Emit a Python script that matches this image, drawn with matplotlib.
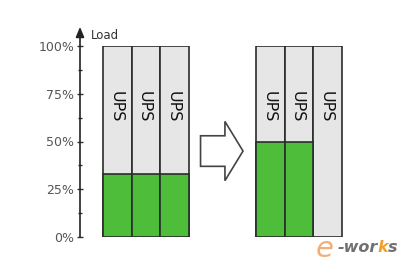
import matplotlib.pyplot as plt
from matplotlib.patches import FancyArrow

# loads (percent) of each UPS before and after consolidation
before_load = [33, 33, 33]
after_load = [50, 50, 0]
bar_label = "UPS"
tick_values = [0, 25, 50, 75, 100]
tick_labels = ["0%", "25%", "50%", "75%", "100%"]
axis_title = "Load"

green = "#4dbd3a"
grey = "#e6e6e6"
edge = "#2b2b2b"

fig = plt.figure(figsize=(4.1, 2.7), dpi=100)
# axes spans from the y axis (x=80px) to the right, 0%..100% vertically
ax = fig.add_axes([80 / 410, 33 / 270, 280 / 410, 191 / 270])
ax.set_xlim(0, 280 / 28.7)
ax.set_ylim(0, 100)

for spine in ["top", "right", "bottom", "left"]:
    ax.spines[spine].set_visible(False)
ax.set_xticks([])
ax.set_yticks(tick_values, tick_labels)
ax.set_yticks([12.5, 37.5, 62.5, 87.5], minor=True)
ax.tick_params(axis="y", which="major", length=4, width=1, color="#333333",
               labelsize=9, labelcolor="#555555", pad=2, direction="inout")
ax.tick_params(axis="y", which="minor", length=3, width=1, color="#333333",
               direction="inout")

# y axis drawn as an arrow going past 100%
ax.annotate("", xy=(0, 1.1), xycoords="axes fraction", xytext=(0, 0),
            textcoords="axes fraction",
            arrowprops=dict(arrowstyle="-|>,head_width=0.25,head_length=0.6",
                            color="#222222", lw=1.2, shrinkA=0, shrinkB=0),
            annotation_clip=False)
ax.text(0.04, 1.055, axis_title, transform=ax.transAxes, fontsize=8.5,
        color="#333333", va="center", ha="left")


def draw_group(start, loads):
    for i, load in enumerate(loads):
        x = start + i
        ax.bar(x, 100, width=1, align="edge", color=grey, edgecolor=edge,
               linewidth=1.2, zorder=1)
        if load > 0:
            ax.bar(x, load, width=1, align="edge", color=green, edgecolor=edge,
                   linewidth=1.2, zorder=2)
        ax.text(x + 0.45, 68, bar_label, rotation=-90, ha="center", va="center",
                fontsize=11.5, color="#111111", zorder=3)


draw_group(0.8, before_load)
draw_group(6.13, after_load)

# block arrow between the two groups
ax.add_patch(FancyArrow(4.2, 45, 0.85, 0, width=16, head_width=31,
                        head_length=0.63, length_includes_head=False,
                        facecolor="white", edgecolor="#444444", linewidth=1.2,
                        clip_on=False))

# watermark
fig.text(316 / 410, 1 - 249 / 270, "e", fontsize=21, color="#f0a060",
         style="italic", va="center", ha="left", alpha=0.85)
fig.text(338 / 410, 1 - 248 / 270, "-wor", fontsize=11.5, color="#707070",
         style="italic", weight="bold", va="center", ha="left")
fig.text(378 / 410, 1 - 248 / 270, "k", fontsize=11.5, color="#f0a030",
         style="italic", weight="bold", va="center", ha="left")
fig.text(388 / 410, 1 - 248 / 270, "s", fontsize=11.5, color="#707070",
         style="italic", weight="bold", va="center", ha="left")

fig.savefig("out.png", dpi=100)
